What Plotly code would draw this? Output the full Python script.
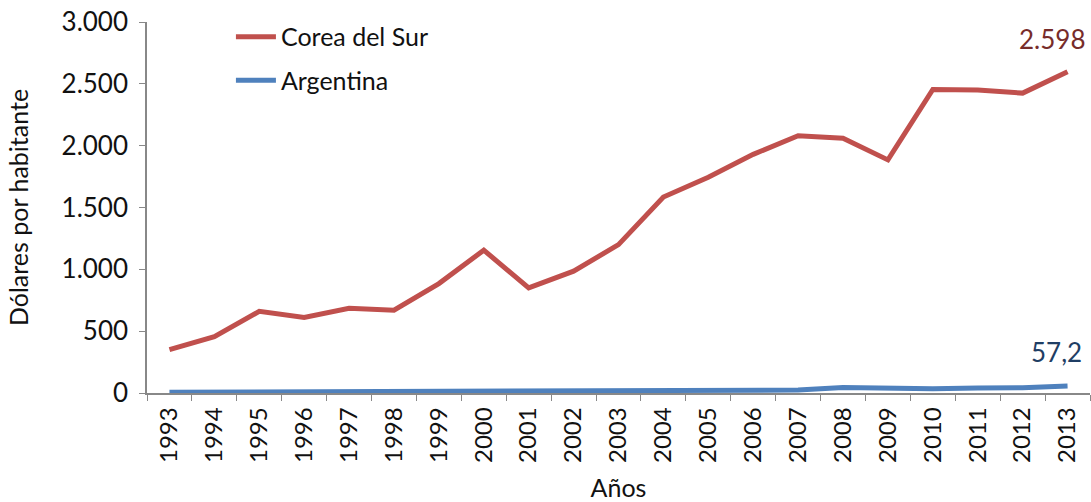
import plotly.graph_objects as go

years = [str(y) for y in range(1993, 2014)]
corea = [350, 455, 660, 610, 685, 670, 885, 1155, 850, 985, 1200, 1585, 1745, 1930, 2080, 2060, 1885, 2455, 2450, 2425, 2598]
argentina = [6, 7, 8, 10, 12, 14, 15, 18, 17, 12, 14, 16, 17, 20, 24, 45, 35, 35, 40, 42, 57.2]

FONT = "Lato, 'Open Sans', sans-serif"
RED = "#C0504D"
BLUE = "#4F81BD"

fig = go.Figure()
fig.add_trace(go.Scatter(x=years, y=corea, mode="lines", name="Corea del Sur",
                         line=dict(color=RED, width=5), legendgroup="a"))
fig.add_trace(go.Scatter(x=years, y=argentina, mode="lines", name="Argentina",
                         line=dict(color=BLUE, width=5), legendgroup="b"))

last = len(years) - 1
fig.add_annotation(x=last, y=corea[-1], text="2.598", showarrow=False,
                   xshift=-16, yshift=33, font=dict(size=26, color="#772C2A", family=FONT))
fig.add_annotation(x=last, y=argentina[-1], text="57,2", showarrow=False,
                   xshift=-11, yshift=34, font=dict(size=26, color="#1F3E64", family=FONT))

fig.update_layout(
    width=1091, height=502,
    margin=dict(l=147, r=1, t=22, b=109),
    paper_bgcolor="white", plot_bgcolor="white",
    font=dict(family=FONT, size=25, color="#111"),
    separators=",.",
    showlegend=True,
    legend=dict(x=0.089, y=1.0216, xanchor="left", yanchor="top",
                tracegroupgap=8, font=dict(size=25, color="#111"),
                bgcolor="rgba(0,0,0,0)", itemwidth=40),
    xaxis=dict(type="category", range=[-0.5, last + 0.5], tickangle=-90,
               ticks="outside", ticklen=6, automargin=False, ticklabelstandoff=3,
               tickson="boundaries", tickcolor="#888", showline=True,
               linecolor="#888", linewidth=1.5, showgrid=False,
               title=dict(text="Años", standoff=22, font=dict(size=25)),
               tickfont=dict(size=24)),
    yaxis=dict(range=[0, 3000], tickvals=[0, 500, 1000, 1500, 2000, 2500, 3000],
               tickformat=",.0f", ticks="outside", ticklen=6, tickcolor="#888",
               showline=True, linecolor="#888", linewidth=1.5, showgrid=False,
               zeroline=False, ticklabelstandoff=6, automargin=False,
               ticklabeloverflow="allow",
               title=dict(text="Dólares por habitante", standoff=26, font=dict(size=25)),
               tickfont=dict(size=26)),
)

# remove the page's default 8px body margin so the figure fills the window exactly
fig.write_html("out.html", config={"displayModeBar": False},
               post_script="document.body.style.margin='0';")
